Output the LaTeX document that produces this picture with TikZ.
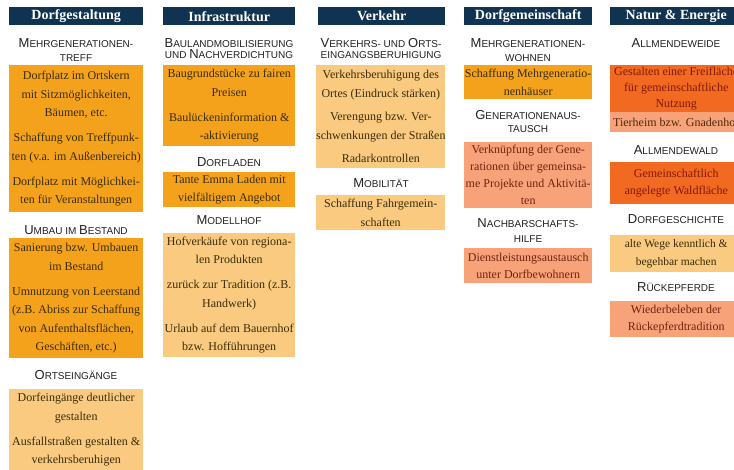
\documentclass[tikz,border=0pt]{standalone}
\usepackage{fontspec}
\setmainfont{Liberation Serif}
\newfontfamily\hsans{Liberation Sans}
\definecolor{navy}{HTML}{0F3350}
\definecolor{orA}{HTML}{F4A21C}
\definecolor{ltA}{HTML}{F9CA80}
\definecolor{salA}{HTML}{F8A27A}
\definecolor{redA}{HTML}{F26A21}
\definecolor{txA}{HTML}{3A2C08}
\definecolor{txS}{HTML}{6E2410}
\definecolor{txR}{HTML}{841808}
\definecolor{ttlc}{HTML}{222222}
\newcommand\Bg[1]{{\fontsize{13}{13}\selectfont #1}}
\begin{document}
\begin{tikzpicture}[x=1pt,y=-1pt,
  hdr/.style={fill=navy,text=white,font=\fontsize{14}{14}\selectfont\bfseries,minimum height=18,anchor=north west,inner sep=0},
  ttl/.style={text=ttlc,align=center,inner sep=0,font=\hsans\fontsize{10}{14}\selectfont},
  bx/.style={anchor=north west,inner sep=0,align=center,font=\fontsize{12}{18.5}\selectfont},
  orbox/.style={bx,fill=orA,text=txA},
  ltbox/.style={bx,fill=ltA,text=txA},
  salbox/.style={bx,fill=salA,text=txS},
  redbox/.style={bx,fill=redA,text=txR}]
\useasboundingbox (0,0) rectangle (734,470);
\fill[white] (0,0) rectangle (734,470);
\clip (0,0) rectangle (734,470);
% headers
\node[hdr,minimum width=134] (h1) at (9,7) {Dorfgestaltung};
\node[hdr,minimum width=132] (h2) at (163,7) {Infrastruktur};
\node[hdr,minimum width=127] (h3) at (318,7) {Verkehr};
\node[hdr,minimum width=128] (h4) at (464,7) {Dorfgemeinschaft};
\node[hdr,minimum width=132] (h5) at (610,7) {Natur \& Energie};
% column 1
\node[ttl] (t11) at (76,50) {\Bg{M}EHRGENERATIONEN-\\TREFF};
\node[orbox,minimum width=134,minimum height=147] (b11) at (9,65) {Dorfplatz im Ortskern\\mit Sitzmöglichkeiten,\\Bäumen, etc.\\[6.5pt]Schaffung von Treffpunk-\\ten (v.a. im Außenbereich)\\[6.5pt]Dorfplatz mit Möglichkei-\\ten für Veranstaltungen};
\node[ttl] (t12) at (76,230) {\Bg{U}MBAU IM \Bg{B}ESTAND};
\node[orbox,minimum width=134,minimum height=120] (b12) at (9,238) {Sanierung bzw. Umbauen\\im Bestand\\[6.5pt]Umnutzung von Leerstand\\(z.B. Abriss zur Schaffung\\von Aufenthaltsflächen,\\Geschäften, etc.)};
\node[ttl] (t13) at (76,375) {\Bg{O}RTSEINGÄNGE};
\node[ltbox,minimum width=134,minimum height=81] (b13) at (9,389) {Dorfeingänge deutlicher\\gestalten\\[6.5pt]Ausfallstraßen gestalten \&\\verkehrsberuhigen};
% column 2
\node[ttl,font=\hsans\fontsize{10}{11.5}\selectfont] (t21) at (229,48.5) {\Bg{B}AULANDMOBILISIERUNG\\UND \Bg{N}ACHVERDICHTUNG};
\node[orbox,minimum width=132,minimum height=81] (b21) at (163,65) {Baugrundstücke zu fairen\\Preisen\\[6.5pt]Baulückeninformation \&\\-aktivierung};
\node[ttl] (t22) at (229,162) {\Bg{D}ORFLADEN};
\node[orbox,minimum width=132,minimum height=35] (b22) at (163,172) {Tante Emma Laden mit\\vielfältigem Angebot};
\node[ttl] (t23) at (229,220) {\Bg{M}ODELLHOF};
\node[ltbox,minimum width=132,minimum height=124] (b23) at (163,233) {Hofverkäufe von regiona-\\len Produkten\\[6.5pt]zurück zur Tradition (z.B.\\Handwerk)\\[6.5pt]Urlaub auf dem Bauernhof\\bzw. Hofführungen};
% column 3
\node[ttl,font=\hsans\fontsize{10}{11.5}\selectfont] (t31) at (381,48.5) {\Bg{V}ERKEHRS- UND \Bg{O}RTS-\\EINGANGSBERUHIGUNG};
\node[ltbox,minimum width=129,minimum height=103] (b31) at (316,65) {Verkehrsberuhigung des\\Ortes (Eindruck stärken)\\[5pt]Verengung bzw. Ver-\\schwenkungen der Straßen\\[5pt]Radarkontrollen};
\node[ttl] (t32) at (381,183) {\Bg{M}OBILITÄT};
\node[ltbox,minimum width=129,minimum height=35] (b32) at (316,195) {Schaffung Fahrgemein-\\schaften};
% column 4
\node[ttl] (t41) at (528,50) {\Bg{M}EHRGENERATIONEN-\\WOHNEN};
\node[orbox,minimum width=128,minimum height=34] (b41) at (464,65) {Schaffung Mehrgeneratio-\\nenhäuser};
\node[ttl,font=\hsans\fontsize{10}{13}\selectfont] (t42) at (528,121.5) {\Bg{G}ENERATIONENAUS-\\TAUSCH};
\node[salbox,minimum width=128,minimum height=66,font=\fontsize{12}{17}\selectfont] (b42) at (464,142) {Verknüpfung der Gene-\\rationen über gemeinsa-\\me Projekte und Aktivitä-\\ten};
\node[ttl,font=\hsans\fontsize{10}{15}\selectfont] (t43) at (528,230.5) {\Bg{N}ACHBARSCHAFTS-\\HILFE};
\node[salbox,minimum width=128,minimum height=35,font=\fontsize{12}{17}\selectfont] (b43) at (464,248) {Dienstleistungsaustausch\\unter Dorfbewohnern};
% column 5
\node[ttl] (t51) at (676,43) {\Bg{A}LLMENDEWEIDE};
\node[redbox,minimum width=132,minimum height=47,font=\fontsize{12}{16}\selectfont] (b51) at (610,65) {Gestalten einer Freifläche\\für gemeinschaftliche\\Nutzung};
\node[salbox,minimum width=132,minimum height=20,text=txA!70!txS] (b52) at (610,112) {Tierheim bzw. Gnadenhof};
\node[ttl] (t52) at (676,150) {\Bg{A}LLMENDEWALD};
\node[redbox,minimum width=132,minimum height=42,font=\fontsize{12}{17}\selectfont] (b53) at (610,162) {Gemeinschaftlich\\angelegte Waldfläche};
\node[ttl] (t53) at (676,219) {\Bg{D}ORFGESCHICHTE};
\node[ltbox,minimum width=132,minimum height=37,font=\fontsize{11.5}{18}\selectfont] (b54) at (610,235) {alte Wege kenntlich \&\\begehbar machen};
\node[ttl] (t54) at (676,287) {\Bg{R}ÜCKEPFERDE};
\node[salbox,minimum width=132,minimum height=36,font=\fontsize{12}{17}\selectfont] (b55) at (610,301) {Wiederbeleben der\\Rückepferdtradition};
\end{tikzpicture}
\end{document}
